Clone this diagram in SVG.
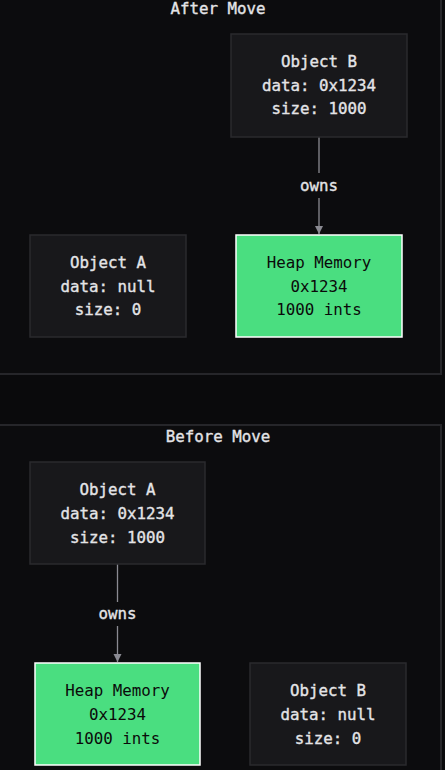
<svg xmlns="http://www.w3.org/2000/svg" width="445" height="770" viewBox="0 0 445 770">
<style>
text{font-family:"DejaVu Sans Mono","Liberation Mono",monospace;font-size:15.8px;text-anchor:middle}
.cl{fill:#0c0c0e;stroke:#26262a;stroke-width:2}
.nd{fill:#18181b;stroke:#2a2a2e;stroke-width:1.5}
.nt{fill:#e4e4e7;stroke:#e4e4e7;stroke-width:0.35}
.hp{fill:#4ade80;stroke:#ffffff;stroke-width:1.5}
.ht{fill:#0a0a0a}
.tt{fill:#e4e4e7;stroke:#e4e4e7;stroke-width:0.35}
.ed{stroke:#8a8a92;stroke-width:1.3;fill:none}
.el{fill:#e4e4e7;stroke:#e4e4e7;stroke-width:0.35}
</style>
<defs>
<marker id="ah" markerWidth="10" markerHeight="10" refX="8" refY="4" orient="auto" markerUnits="userSpaceOnUse">
<path d="M0,0 L8,4 L0,8 Z" fill="#8a8a92"/>
</marker>
</defs>
<rect width="445" height="770" fill="#0a0a0c"/>
<g id="cluster-after">
<rect class="cl" x="-5" y="-10" width="446" height="384"/>
<text class="tt" x="218" y="14">After Move</text>
</g>
<g id="cluster-before">
<rect class="cl" x="-5" y="425" width="446" height="360"/>
<text class="tt" x="218" y="442">Before Move</text>
</g>
<g id="connectors">
<path class="ed" d="M319,137 V173"/>
<path class="ed" d="M319,198 V234" marker-end="url(#ah)"/>
<text class="el" x="319" y="191">owns</text>
<path class="ed" d="M117.5,564 V602"/>
<path class="ed" d="M117.5,626 V662" marker-end="url(#ah)"/>
<text class="el" x="117.5" y="619">owns</text>
</g>
<g id="after-objB">
<rect class="nd" x="231" y="34" width="176" height="103"/>
<text class="nt" x="319" y="67">Object B</text>
<text class="nt" x="319" y="91">data: 0x1234</text>
<text class="nt" x="319" y="114">size: 1000</text>
</g>
<g id="after-heap">
<rect class="hp" x="236" y="235" width="166" height="102"/>
<text class="ht" x="319" y="268">Heap Memory</text>
<text class="ht" x="319" y="292">0x1234</text>
<text class="ht" x="319" y="315">1000 ints</text>
</g>
<g id="after-objA">
<rect class="nd" x="30" y="235" width="156" height="102"/>
<text class="nt" x="108" y="268">Object A</text>
<text class="nt" x="108" y="292">data: null</text>
<text class="nt" x="108" y="315">size: 0</text>
</g>
<g id="before-objA">
<rect class="nd" x="30" y="462" width="175" height="102"/>
<text class="nt" x="117.5" y="495">Object A</text>
<text class="nt" x="117.5" y="519">data: 0x1234</text>
<text class="nt" x="117.5" y="543">size: 1000</text>
</g>
<g id="before-heap">
<rect class="hp" x="35" y="663" width="165" height="102"/>
<text class="ht" x="117.5" y="696">Heap Memory</text>
<text class="ht" x="117.5" y="720">0x1234</text>
<text class="ht" x="117.5" y="744">1000 ints</text>
</g>
<g id="before-objB">
<rect class="nd" x="250" y="663" width="156" height="102"/>
<text class="nt" x="328" y="696">Object B</text>
<text class="nt" x="328" y="720">data: null</text>
<text class="nt" x="328" y="744">size: 0</text>
</g>
</svg>
